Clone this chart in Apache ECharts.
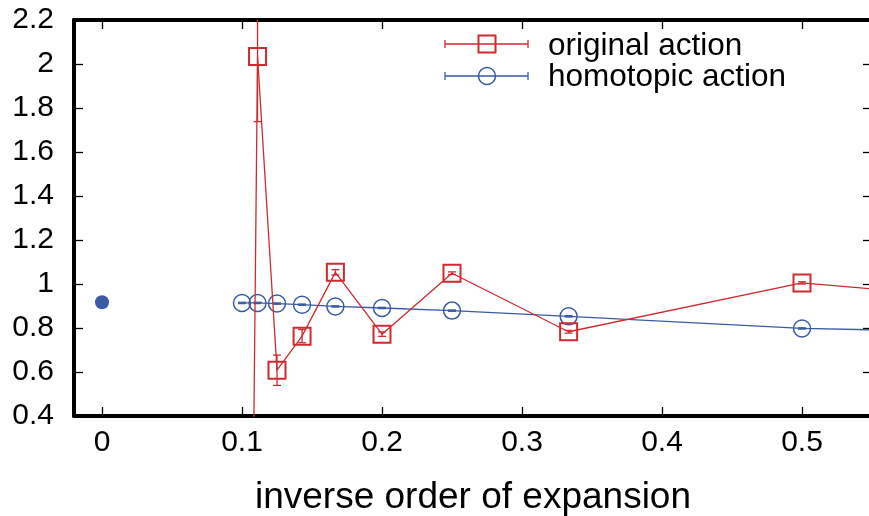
<!DOCTYPE html>
<html>
<head>
<meta charset="utf-8">
<script src="https://cdn.jsdelivr.net/npm/echarts@6/dist/echarts.min.js"></script>
<style>
  html, body { margin: 0; padding: 0; background: #fff; }
  #chart { width: 869px; height: 516px; }
</style>
</head>
<body>
<div id="chart"></div>
<script>
// inverse order of expansion (1/n), n = 10 ... 1
const xInv = [0.1, 0.1111, 0.125, 0.1429, 0.1667, 0.2, 0.25, 0.3333, 0.5, 1.0];
const origVals = [-5.0, 2.034, 0.608, 0.763, 1.053, 0.772, 1.049, 0.783, 1.005, 0.73];
const origErrs = [0.3, 0.296, 0.069, 0.03, 0.012, 0.01, 0.006, 0.006, 0.005, 0.005];
const homoVals = [0.914, 0.914, 0.911, 0.906, 0.898, 0.891, 0.879, 0.853, 0.798, 0.735];
const homoErrs = [0.003, 0.003, 0.003, 0.003, 0.003, 0.003, 0.003, 0.003, 0.003, 0.003];
const extrapPoint = [0, 0.917];
const xTicks = [0, 0.1, 0.2, 0.3, 0.4, 0.5];

const RED = '#cf2a30';
const BLUE = '#3a5aa6';
const FONT = '"Liberation Sans", Arial, sans-serif';

const pairs = (xs, ys) => xs.map((x, i) => [x, ys[i]]);
const errRows = (xs, ys, es) => xs.map((x, i) => [x, ys[i] - es[i], ys[i] + es[i]]);

const errorBar = color => (params, api) => {
  const lo = api.coord([api.value(0), api.value(1)]);
  const hi = api.coord([api.value(0), api.value(2)]);
  const cap = 4;
  const rect = params.coordSys;
  const clip = s => echarts.graphic.clipPointsByRect(s, rect);
  const style = { stroke: color, lineWidth: 1.3 };
  const seg = (a, b) => {
    const p = clip([a, b]);
    return { type: 'line', shape: { x1: p[0][0], y1: p[0][1], x2: p[1][0], y2: p[1][1] }, style };
  };
  const inside = y => y >= rect.y && y <= rect.y + rect.height;
  const children = [seg(lo, hi)];
  if (inside(hi[1])) children.push(seg([hi[0] - cap, hi[1]], [hi[0] + cap, hi[1]]));
  if (inside(lo[1])) children.push(seg([lo[0] - cap, lo[1]], [lo[0] + cap, lo[1]]));
  return { type: 'group', children };
};

const chart = echarts.init(document.getElementById('chart'), null, { renderer: 'canvas' });

const axisLine = { show: true, onZero: false, lineStyle: { color: '#000', width: 4 } };
const tickStyle = { show: true, inside: true, length: 9, lineStyle: { color: '#000', width: 1.3 } };

chart.setOption({
  animation: false,
  backgroundColor: '#fff',
  grid: { left: 74, top: 20, right: -3, bottom: 100, containLabel: false, outerBoundsMode: 'none' },
  xAxis: [{
    type: 'value', min: -0.02, max: 0.55, position: 'bottom',
    axisLine: axisLine,
    axisTick: Object.assign({ customValues: xTicks }, tickStyle),
    axisLabel: { customValues: xTicks, color: '#000', fontSize: 30, fontFamily: FONT, margin: 12 },
    splitLine: { show: false },
    name: 'inverse order of expansion', nameLocation: 'middle', nameGap: 63,
    nameTextStyle: { color: '#000', fontSize: 37, fontFamily: FONT }
  }, {
    type: 'value', min: -0.02, max: 0.55, position: 'top',
    axisLine: axisLine,
    axisTick: Object.assign({ customValues: xTicks }, tickStyle),
    axisLabel: { show: false },
    splitLine: { show: false }
  }],
  yAxis: [{
    type: 'value', min: 0.4, max: 2.2, interval: 0.2, position: 'left',
    axisLine: axisLine,
    axisTick: tickStyle,
    axisLabel: { color: '#000', fontSize: 30, fontFamily: FONT, margin: 20 },
    splitLine: { show: false }
  }, {
    type: 'value', min: 0.4, max: 2.2, interval: 0.2, position: 'right',
    axisLine: axisLine,
    axisTick: tickStyle,
    axisLabel: { show: false },
    splitLine: { show: false }
  }],
  series: [{
    name: 'original action', type: 'line', data: pairs(xInv, origVals),
    symbol: 'rect', symbolSize: 17, clip: true,
    lineStyle: { color: RED, width: 1.3 },
    itemStyle: { color: 'none', borderColor: RED, borderWidth: 2 },
    z: 3
  }, {
    name: 'original action err', type: 'custom', data: errRows(xInv, origVals, origErrs),
    renderItem: errorBar(RED), encode: { x: 0, y: [1, 2] }, z: 3
  }, {
    name: 'homotopic action', type: 'line', data: pairs(xInv, homoVals),
    symbol: 'circle', symbolSize: 17, clip: true,
    lineStyle: { color: BLUE, width: 1.3 },
    itemStyle: { color: 'none', borderColor: BLUE, borderWidth: 1.5 },
    z: 2
  }, {
    name: 'homotopic action err', type: 'custom', data: errRows(xInv, homoVals, homoErrs),
    renderItem: errorBar(BLUE), encode: { x: 0, y: [1, 2] }, z: 2
  }, {
    name: 'extrapolation', type: 'scatter', data: [extrapPoint],
    symbol: 'circle', symbolSize: 14, itemStyle: { color: BLUE, opacity: 1 }, z: 4
  }],
  graphic: [
    { type: 'line', shape: { x1: 445, y1: 44, x2: 528, y2: 44 }, style: { stroke: RED, lineWidth: 1.3 } },
    { type: 'line', shape: { x1: 445, y1: 40, x2: 445, y2: 48 }, style: { stroke: RED, lineWidth: 1.3 } },
    { type: 'line', shape: { x1: 528, y1: 40, x2: 528, y2: 48 }, style: { stroke: RED, lineWidth: 1.3 } },
    { type: 'rect', shape: { x: 478.5, y: 35.5, width: 17, height: 17 }, style: { fill: 'none', stroke: RED, lineWidth: 2 } },
    { type: 'text', left: 548, top: 30, style: { text: 'original action', fill: '#000', font: '31.5px ' + FONT } },
    { type: 'line', shape: { x1: 445, y1: 76, x2: 528, y2: 76 }, style: { stroke: BLUE, lineWidth: 1.3 } },
    { type: 'line', shape: { x1: 445, y1: 72, x2: 445, y2: 80 }, style: { stroke: BLUE, lineWidth: 1.3 } },
    { type: 'line', shape: { x1: 528, y1: 72, x2: 528, y2: 80 }, style: { stroke: BLUE, lineWidth: 1.3 } },
    { type: 'circle', shape: { cx: 487, cy: 76, r: 8.5 }, style: { fill: 'none', stroke: BLUE, lineWidth: 1.5 } },
    { type: 'text', left: 548, top: 61, style: { text: 'homotopic action', fill: '#000', font: '31.5px ' + FONT } }
  ]
});
</script>
</body>
</html>
